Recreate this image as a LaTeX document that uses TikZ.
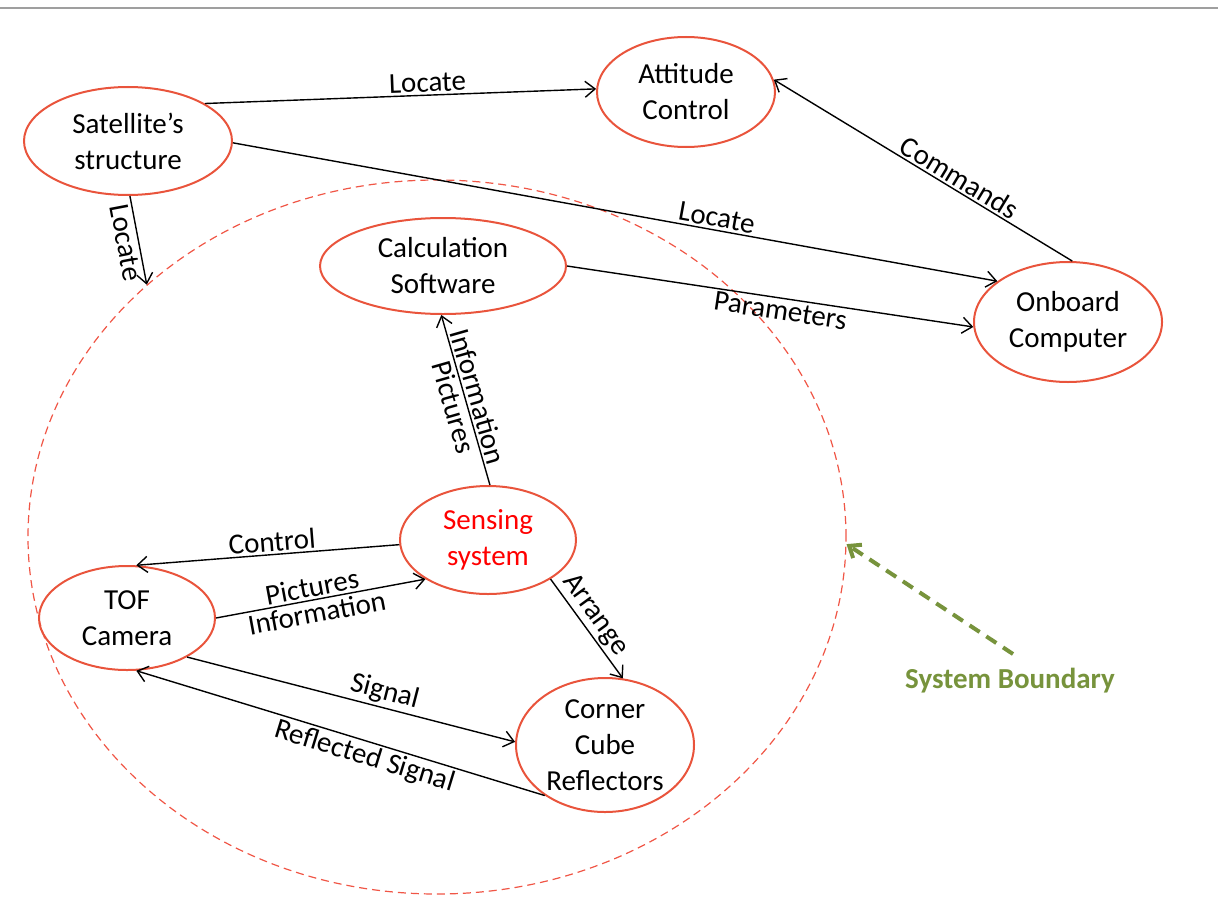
\documentclass[tikz,border=0pt]{standalone}
\usepackage{fontspec}
\setmainfont{Carlito}
\usetikzlibrary{shapes.geometric,arrows.meta}

\definecolor{ellred}{RGB}{233,84,60}
\definecolor{bndred}{RGB}{240,86,70}
\definecolor{bndgreen}{RGB}{119,147,60}

\tikzset{
	block/.style={ellipse, draw=ellred, line width=1pt, inner sep=0pt, align=center,
		font=\fontsize{14.5}{18}\selectfont},
	flow/.style={->, >={Straight Barb[length=5pt,width=8pt]}, line width=0.7pt},
	lbl/.style={sloped, inner sep=1.2pt, font=\fontsize{14.5}{17}\selectfont},
}

\begin{document}
\begin{tikzpicture}[x=0.5pt, y=-0.5pt]
\useasboundingbox (0,0) rectangle (1218,915);
\draw[gray!75, line width=1.4pt] (0,8) -- (1218,8);

%% Systemgrenze
\begin{scope}
	\node[ellipse, draw=bndred, dashed, dash pattern=on 4pt off 2.5pt, line width=0.6pt,
		minimum width=409pt, minimum height=357pt] (bnd) at (437,537) {};
	\node[text=bndgreen, font=\fontsize{14.5}{17}\selectfont\bfseries] (bndlabel) at (1010,681) {System Boundary};
	\coordinate (bndtail) at (1013,654);
	\draw[bndgreen, line width=2pt, dash pattern=on 6pt off 4pt, ->, >={Straight Barb[length=5pt,width=8pt]}]
		(bndtail) -- (bnd.-1);
\end{scope}

%% Knoten
\node[block, minimum width=104pt, minimum height=54pt] (sat) at (128,141) {Satellite's\\structure};
\node[block, minimum width=89pt, minimum height=55pt] (att) at (686,92) {Attitude\\Control};
\node[block, minimum width=123pt, minimum height=48pt] (calc) at (443,266) {Calculation\\Software};
\node[block, minimum width=94pt, minimum height=60pt] (onb) at (1068,322) {Onboard\\Computer};
\node[block, minimum width=88pt, minimum height=54pt, text=red] (sens) at (488,540) {Sensing\\system};
\node[block, minimum width=88pt, minimum height=52pt] (tof) at (127,618) {TOF\\Camera};
\node[block, minimum width=89pt, minimum height=67pt] (ccr) at (605,745) {Corner\\Cube\\Reflectors};

%% Verbindungen
\draw[flow] (sat.26) -- (att.178) node[lbl, pos=0.57, above] {Locate};
\draw[flow] (sat.-1) -- (onb.150) node[lbl, pos=0.63, above] {Locate};
\draw[flow] (sat.-88) -- (bnd.139) node[lbl, midway, below] {Locate};
\draw[flow] (onb.86) -- (att.8) node[lbl, pos=0.4, above] {Commands};
\draw[flow] (calc.0) -- (onb.183) node[lbl, pos=0.53, below] {Parameters};
\draw[flow] (sens.88) -- (calc.-92)
	node[lbl, pos=0.5, above] {Information}
	node[lbl, pos=0.48, below] {Pictures};
\draw[flow] (sens.183) -- (tof.80) node[lbl, pos=0.48, above] {Control};
\draw[flow] (tof.0) -- (sens.212)
	node[lbl, pos=0.47, above] {Pictures}
	node[lbl, pos=0.47, below] {Information};
\draw[flow] (sens.-32) -- (ccr.75) node[lbl, pos=0.45, above] {Arrange};
\draw[flow] (tof.-33) -- (ccr.178) node[lbl, pos=0.59, above] {Signal};
\draw[flow] (ccr.220) -- (tof.-80) node[lbl, pos=0.43, below] {Reflected Signal};

\end{tikzpicture}
\end{document}
